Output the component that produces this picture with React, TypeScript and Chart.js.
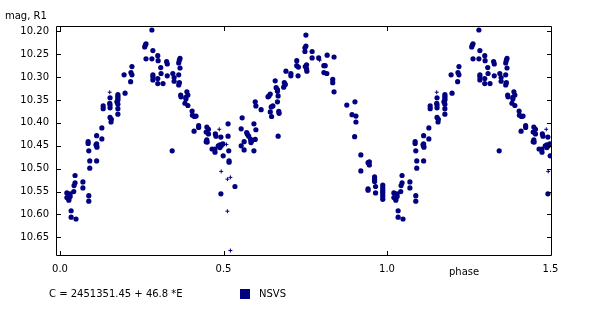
import React, { useEffect, useRef } from "react";
import { Chart, registerables } from "chart.js";

Chart.register(...registerables);

// ---- data (phase-folded light curve, phase 0..1) ----
const phases = [
  0.021, 0.031, 0.021, 0.027, 0.031, 0.027, 0.042, 0.043, 0.046, 0.046,
  0.034, 0.034, 0.049, 0.070, 0.070, 0.088, 0.088, 0.091, 0.091, 0.112,
  0.088, 0.086, 0.086, 0.112, 0.112, 0.113, 0.110, 0.128, 0.112, 0.128,
  0.153, 0.157, 0.156, 0.132, 0.132, 0.153, 0.152, 0.153, 0.153, 0.177,
  0.177, 0.177, 0.177, 0.174, 0.177, 0.177, 0.177, 0.199, 0.196, 0.216,
  0.220, 0.217, 0.220, 0.263, 0.261, 0.259, 0.263, 0.281, 0.284, 0.281,
  0.284, 0.284, 0.284, 0.299, 0.300, 0.299, 0.299, 0.315, 0.308, 0.309,
  0.326, 0.328, 0.328, 0.343, 0.345, 0.349, 0.349, 0.363, 0.365, 0.363,
  0.367, 0.365, 0.363, 0.367, 0.369, 0.370, 0.388, 0.391, 0.385, 0.385,
  0.382, 0.391, 0.404, 0.405, 0.411, 0.416, 0.424, 0.424, 0.410, 0.449,
  0.454, 0.447, 0.454, 0.449, 0.447, 0.450, 0.465, 0.474, 0.474, 0.475,
  0.477, 0.492, 0.484, 0.489, 0.493, 0.489, 0.498, 0.499, 0.514, 0.514,
  0.516, 0.517, 0.517, 0.535, 0.492, 0.557, 0.554, 0.571, 0.573, 0.577,
  0.554, 0.563, 0.563, 0.584, 0.585, 0.583, 0.593, 0.597, 0.593, 0.599,
  0.615, 0.597, 0.599, 0.636, 0.639, 0.643, 0.658, 0.661, 0.665, 0.665,
  0.667, 0.646, 0.651, 0.643, 0.647, 0.665, 0.669, 0.670, 0.667, 0.686,
  0.689, 0.684, 0.691, 0.706, 0.706, 0.724, 0.724, 0.729, 0.728, 0.752,
  0.752, 0.749, 0.749, 0.771, 0.771, 0.754, 0.750, 0.754, 0.755, 0.791,
  0.817, 0.838, 0.807, 0.811, 0.807, 0.816, 0.834, 0.834, 0.838, 0.877,
  0.902, 0.893, 0.905, 0.905, 0.901, 0.920, 0.942, 0.946, 0.946, 0.920,
  0.962, 0.962, 0.962, 0.942, 0.942, 0.965, 0.965, 0.987, 0.987, 0.987,
  0.987, 0.987, 0.987, 0.987,
];
const mags = [
  10.553, 10.555, 10.563, 10.566, 10.561, 10.569, 10.550, 10.537, 10.531, 10.515,
  10.592, 10.606, 10.610, 10.529, 10.542, 10.559, 10.571, 10.499, 10.483, 10.483,
  10.461, 10.441, 10.445, 10.446, 10.450, 10.453, 10.448, 10.435, 10.428, 10.411,
  10.388, 10.392, 10.398, 10.363, 10.369, 10.345, 10.357, 10.361, 10.367, 10.338,
  10.342, 10.346, 10.350, 10.354, 10.359, 10.369, 10.381, 10.335, 10.295, 10.310,
  10.277, 10.290, 10.295, 10.227, 10.230, 10.234, 10.260, 10.197, 10.242, 10.260,
  10.295, 10.299, 10.306, 10.253, 10.264, 10.303, 10.314, 10.314, 10.279, 10.292,
  10.266, 10.271, 10.297, 10.461, 10.292, 10.301, 10.309, 10.295, 10.312, 10.317,
  10.259, 10.263, 10.269, 10.280, 10.339, 10.343, 10.332, 10.339, 10.344, 10.348,
  10.357, 10.362, 10.374, 10.383, 10.386, 10.385, 10.406, 10.410, 10.418, 10.409,
  10.414, 10.420, 10.424, 10.437, 10.441, 10.442, 10.457, 10.457, 10.464, 10.424,
  10.429, 10.431, 10.450, 10.448, 10.450, 10.454, 10.446, 10.472, 10.402, 10.429,
  10.461, 10.483, 10.486, 10.539, 10.555, 10.389, 10.413, 10.421, 10.425, 10.429,
  10.450, 10.441, 10.459, 10.443, 10.440, 10.436, 10.461, 10.436, 10.402, 10.415,
  10.371, 10.354, 10.363, 10.343, 10.341, 10.337, 10.308, 10.323, 10.327, 10.331,
  10.341, 10.365, 10.363, 10.376, 10.386, 10.354, 10.375, 10.379, 10.429, 10.312,
  10.316, 10.322, 10.287, 10.292, 10.297, 10.264, 10.275, 10.278, 10.297, 10.208,
  10.232, 10.236, 10.244, 10.244, 10.258, 10.273, 10.277, 10.282, 10.287, 10.258,
  10.252, 10.256, 10.275, 10.275, 10.290, 10.292, 10.305, 10.312, 10.332, 10.361,
  10.354, 10.382, 10.385, 10.398, 10.430, 10.470, 10.487, 10.485, 10.492, 10.505,
  10.518, 10.523, 10.528, 10.544, 10.547, 10.539, 10.553, 10.536, 10.542, 10.547,
  10.552, 10.557, 10.562, 10.567,
];
// fainter-quality observations drawn as small crosses
const crossPhases = [0.152, 0.487, 0.509, 0.493, 0.512, 0.521, 0.512, 0.521, 0.794];
const crossMags = [10.333, 10.414, 10.447, 10.506, 10.523, 10.519, 10.593, 10.679, 10.263];

const xTicks = [0.0, 0.5, 1.0, 1.5];
const yTicks = [10.2, 10.25, 10.3, 10.35, 10.4, 10.45, 10.5, 10.55, 10.6, 10.65];
const yAxisTitle = "mag, R1";
const xAxisTitle = "phase";
const ephemeris = "C = 2451351.45 + 46.8 *E";
const seriesName = "NSVS";

const NAVY = "#000080";
const FONT = "10px 'DejaVu Sans', sans-serif";

function fold(ps: number[], ms: number[]) {
  const pts = ps.map((p, i) => ({ x: p, y: ms[i] }));
  const rep = pts.filter((pt) => pt.x + 1 <= 1.5).map((pt) => ({ x: pt.x + 1, y: pt.y }));
  return pts.concat(rep);
}

const framePlugin = {
  id: "frame",
  afterDatasetsDraw(chart: any) {
    const { ctx, chartArea } = chart;
    const { left, right, top, bottom } = chartArea;
    const xs = chart.scales.x;
    const ys = chart.scales.y;
    ctx.save();
    ctx.strokeStyle = "#000";
    ctx.lineWidth = 1;
    ctx.beginPath();
    ctx.rect(left - 0.5, top - 0.5, right - left + 1, bottom - top + 1);
    ctx.stroke();
    ctx.beginPath();
    const tl = 4;
    for (const v of yTicks) {
      const y = Math.round(ys.getPixelForValue(v)) + 0.5;
      ctx.moveTo(left, y);
      ctx.lineTo(left + tl, y);
      ctx.moveTo(right, y);
      ctx.lineTo(right - tl, y);
    }
    for (const v of xTicks) {
      const x = Math.round(xs.getPixelForValue(v)) + 0.5;
      ctx.moveTo(x, bottom);
      ctx.lineTo(x, bottom - tl);
      ctx.moveTo(x, top);
      ctx.lineTo(x, top + tl);
    }
    ctx.stroke();
    ctx.restore();
  },
  afterDraw(chart: any) {
    const { ctx } = chart;
    ctx.save();
    ctx.font = FONT;
    ctx.fillStyle = "#000";
    ctx.textBaseline = "middle";
    ctx.textAlign = "left";
    ctx.fillText(yAxisTitle, 5, 16);
    ctx.fillText(xAxisTitle, 449, 272.5);
    ctx.fillText(ephemeris, 49, 294.5);
    ctx.fillText(seriesName, 259, 294);
    ctx.fillStyle = NAVY;
    ctx.fillRect(240, 289, 10, 10);
    ctx.restore();
  },
};

export default function App() {
  const ref = useRef<HTMLCanvasElement | null>(null);
  useEffect(() => {
    document.body.style.margin = "0";
    const canvas = ref.current!;
    const chart = new Chart(canvas, {
      type: "scatter",
      data: {
        datasets: [
          {
            label: seriesName,
            data: fold(phases, mags),
            backgroundColor: NAVY,
            borderColor: NAVY,
            pointStyle: "circle",
            pointRadius: 2.6,
            borderWidth: 0,
          },
          {
            label: seriesName + " (cross)",
            data: fold(crossPhases, crossMags),
            backgroundColor: NAVY,
            borderColor: NAVY,
            pointStyle: "cross",
            pointRadius: 2,
            borderWidth: 1,
          },
        ],
      },
      options: {
        responsive: false,
        animation: false,
        devicePixelRatio: 1,
        layout: { padding: { left: 0, top: 27, right: 49, bottom: 0 } },
        plugins: { legend: { display: false }, tooltip: { enabled: false } },
        scales: {
          x: {
            type: "linear",
            min: -0.0092,
            max: 1.5015,
            afterBuildTicks: (s: any) => {
              s.ticks = xTicks.map((v) => ({ value: v }));
            },
            afterFit: (s: any) => {
              s.height = 57;
            },
            grid: { display: false, drawTicks: false },
            border: { display: false },
            ticks: {
              padding: 8,
              maxRotation: 0,
              autoSkip: false,
              color: "#000",
              font: { family: "'DejaVu Sans', sans-serif", size: 10 },
              callback: (v: any) => Number(v).toFixed(1),
            },
          },
          y: {
            type: "linear",
            reverse: true,
            min: 10.1904,
            max: 10.6887,
            afterBuildTicks: (s: any) => {
              s.ticks = yTicks.map((v) => ({ value: v }));
            },
            afterFit: (s: any) => {
              s.width = 57;
            },
            grid: { display: false, drawTicks: false },
            border: { display: false },
            ticks: {
              padding: 8,
              autoSkip: false,
              color: "#000",
              font: { family: "'DejaVu Sans', sans-serif", size: 10 },
              callback: (v: any) => Number(v).toFixed(2),
            },
          },
        },
      },
      plugins: [framePlugin],
    });
    return () => chart.destroy();
  }, []);
  return (
    <div style={{ position: "fixed", left: 0, top: 0, width: 600, height: 312, background: "#fff" }}>
      <canvas ref={ref} width={600} height={312} style={{ width: 600, height: 312, display: "block" }} />
    </div>
  );
}
